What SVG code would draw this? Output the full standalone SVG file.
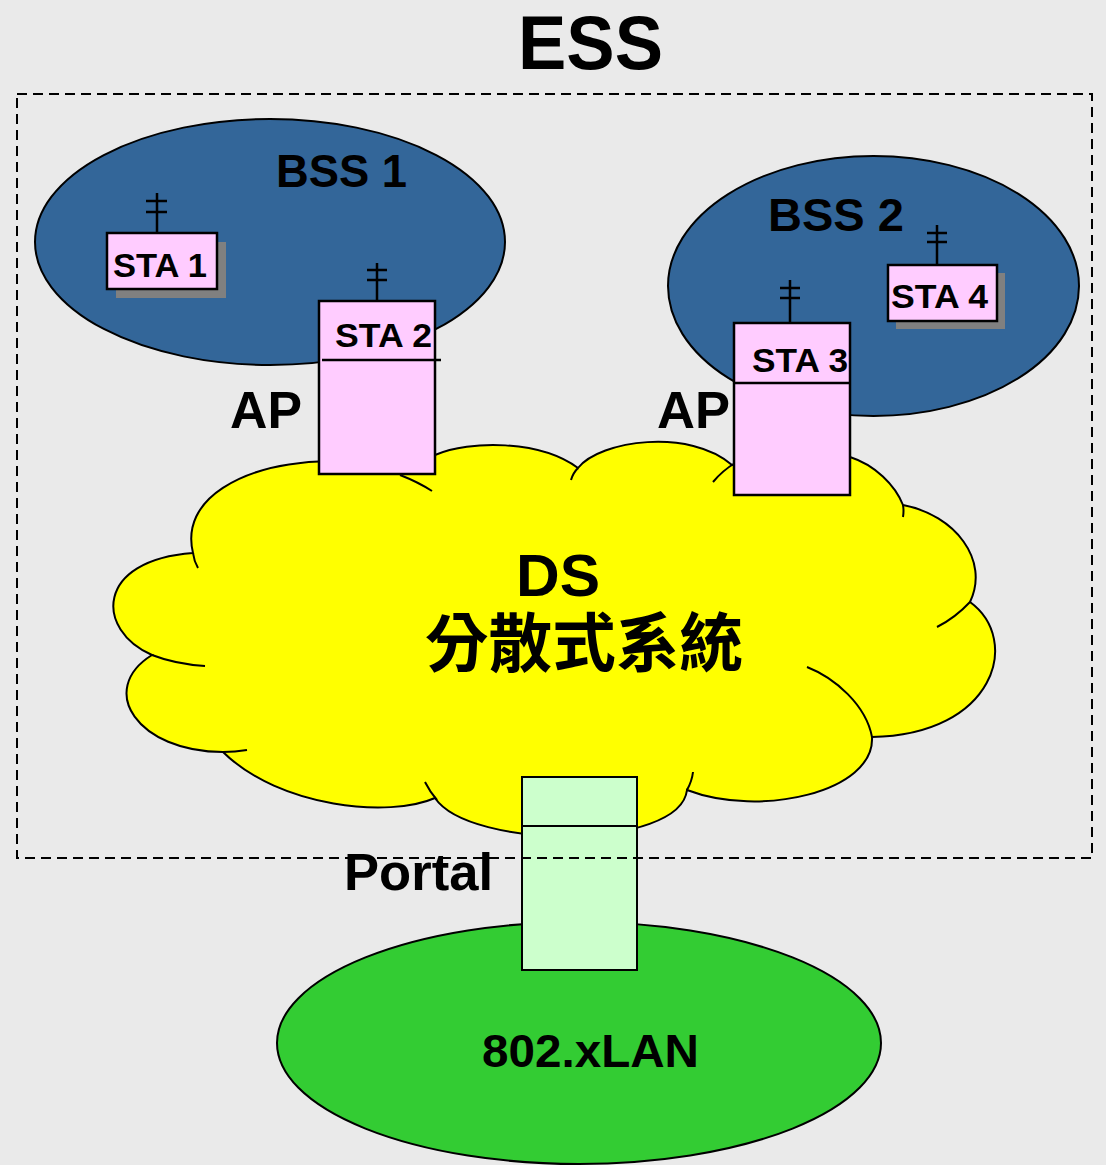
<svg xmlns="http://www.w3.org/2000/svg" width="1106" height="1165" viewBox="0 0 1106 1165">
  <defs>
    <style>
      .lbl { font-family: "Liberation Sans", Arial, sans-serif; font-weight: bold; fill: #000; }
      .cjk { font-family: "Liberation Sans", "Noto Sans CJK TC", "Noto Sans CJK SC", sans-serif; font-weight: bold; fill: #000; }
      .edge { stroke: #000; stroke-width: 2; }
      .sta { fill: #FFCCFF; stroke: #000; stroke-width: 2.5; }
      .shadow { fill: #808080; }
      .ant { fill: none; stroke: #000; stroke-width: 2.5; }
      .tail { fill: none; stroke: #000; stroke-width: 2; }
    </style>
  </defs>

  <rect x="0" y="0" width="1106" height="1165" fill="#EAEAEA"/>

  <!-- basic service sets -->
  <g id="bss1">
    <ellipse cx="270" cy="242" rx="235" ry="123" fill="#336699" class="edge"/>
    <text class="lbl" x="276" y="187" font-size="46" textLength="131" lengthAdjust="spacingAndGlyphs">BSS 1</text>
  </g>
  <g id="bss2">
    <ellipse cx="873.5" cy="286" rx="205.5" ry="130" fill="#336699" class="edge"/>
    <text class="lbl" x="768" y="231" font-size="46" textLength="136" lengthAdjust="spacingAndGlyphs">BSS 2</text>
  </g>

  <!-- wired LAN behind the portal -->
  <g id="lan">
    <ellipse cx="579" cy="1043" rx="302" ry="121" fill="#33CC33" class="edge"/>
    <text class="lbl" x="482" y="1067" font-size="47" textLength="217" lengthAdjust="spacingAndGlyphs">802.xLAN</text>
  </g>

  <!-- distribution system cloud -->
  <g id="ds">
    <path fill="#FFFF00" class="edge" d="M193,553 C180,500 240,463 330,461 L435,455 C470,440 540,440 578,468 C600,440 690,428 732,465 L850,457 C875,465 895,485 903,505 C955,515 990,560 970,602 C1022,640 995,735 872,737 C875,792 760,818 687,790 C680,850 470,850 435,798 C390,818 280,808 223,752 C138,752 96,690 152,655 C95,630 95,560 193,553 Z"/>
    <path class="tail" d="M193,553 Q194,561 198,568"/>
    <path class="tail" d="M152,655 Q175,664 205,666"/>
    <path class="tail" d="M223,752 Q235,752 247,750"/>
    <path class="tail" d="M425,782 Q430,792 437,800"/>
    <path class="tail" d="M687,790 Q692,781 693,772"/>
    <path class="tail" d="M807,667 C835,678 866,705 872,737"/>
    <path class="tail" d="M970,602 Q955,618 937,627"/>
    <path class="tail" d="M903,505 Q904,511 903,517"/>
    <path class="tail" d="M713,482 Q722,471 735,463"/>
    <path class="tail" d="M578,468 Q573,473 571,480"/>
    <path class="tail" d="M400,475 Q418,482 432,491"/>
    <text class="lbl" x="516" y="596" font-size="60" textLength="84" lengthAdjust="spacingAndGlyphs">DS</text>
    <text class="cjk" x="425" y="666" font-size="64" textLength="318" lengthAdjust="spacingAndGlyphs">分散式系統</text>
  </g>

  <!-- stations -->
  <g id="sta1">
    <rect class="shadow" x="116" y="242" width="110" height="56"/>
    <rect class="sta" x="107" y="233" width="110" height="56"/>
    <path class="ant" d="M157,193 V233 M146,201 H167 M146,212 H167"/>
    <text class="lbl" x="113" y="277" font-size="33" textLength="94" lengthAdjust="spacingAndGlyphs">STA 1</text>
  </g>
  <g id="sta4">
    <rect class="shadow" x="896" y="273" width="109" height="56"/>
    <rect class="sta" x="888" y="265" width="109" height="56"/>
    <path class="ant" d="M937,225 V265 M927,233 H947 M927,242 H947"/>
    <text class="lbl" x="891" y="308" font-size="33" textLength="97" lengthAdjust="spacingAndGlyphs">STA 4</text>
  </g>

  <!-- access points -->
  <g id="ap1">
    <rect class="sta" x="319" y="301" width="116" height="173"/>
    <path class="ant" d="M377,263 V301 M367,270 H387 M367,280 H387"/>
    <line x1="322" y1="360" x2="441" y2="360" stroke="#000" stroke-width="2.5"/>
    <text class="lbl" x="335" y="347" font-size="33" textLength="97" lengthAdjust="spacingAndGlyphs">STA 2</text>
    <text class="lbl" x="230" y="428" font-size="52" textLength="72" lengthAdjust="spacingAndGlyphs">AP</text>
  </g>
  <g id="ap2">
    <rect class="sta" x="734" y="323" width="116" height="172"/>
    <path class="ant" d="M790,280 V323 M780,288 H800 M780,298 H800"/>
    <line x1="734" y1="383" x2="851" y2="383" stroke="#000" stroke-width="2.5"/>
    <text class="lbl" x="752" y="372" font-size="33" textLength="96" lengthAdjust="spacingAndGlyphs">STA 3</text>
    <text class="lbl" x="657" y="428" font-size="52" textLength="73" lengthAdjust="spacingAndGlyphs">AP</text>
  </g>

  <!-- portal to the wired LAN -->
  <g id="portal">
    <rect x="522" y="777" width="115" height="193" fill="#CCFFCC" stroke="#000" stroke-width="2"/>
    <line x1="522" y1="826" x2="637" y2="826" stroke="#000" stroke-width="2"/>
  </g>

  <!-- extended service set boundary -->
  <g id="ess">
    <rect x="17" y="94" width="1075" height="764" fill="none" stroke="#000" stroke-width="2" stroke-dasharray="10 6"/>
    <text class="lbl" x="518" y="69" font-size="76" textLength="145" lengthAdjust="spacingAndGlyphs">ESS</text>
  </g>

  <text class="lbl" x="344" y="890" font-size="52" textLength="149" lengthAdjust="spacingAndGlyphs">Portal</text>

  <g id="connectors"></g>
</svg>
